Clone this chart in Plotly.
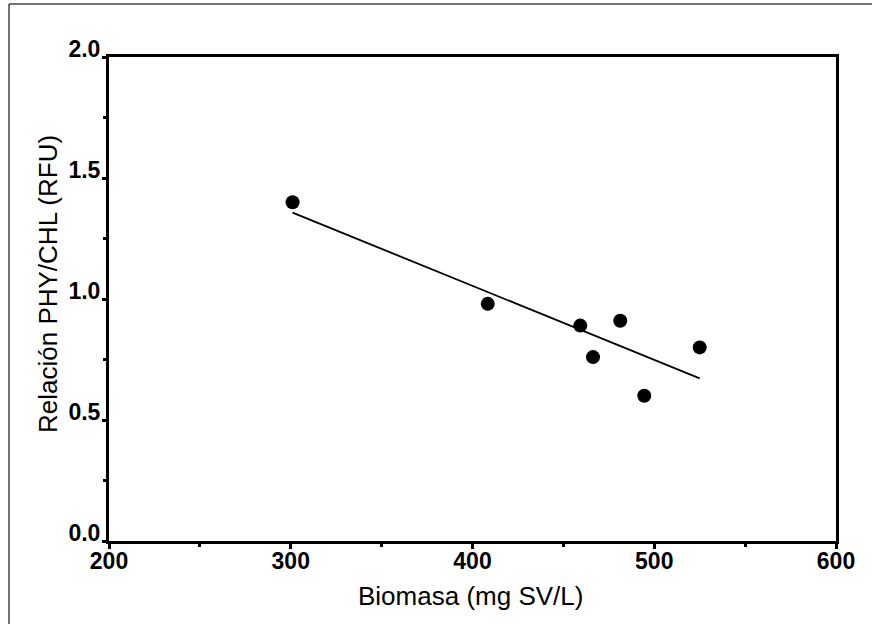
import plotly.graph_objects as go

# Data
biomasa = [301, 408.4, 459.3, 466.3, 481.3, 494.5, 525.0]
relacion = [1.40, 0.98, 0.89, 0.76, 0.91, 0.60, 0.80]

# Regression line endpoints (as drawn)
fit_x = [301, 525]
fit_y = [1.357, 0.672]

x_title = "Biomasa (mg SV/L)"
y_title = "Relación PHY/CHL (RFU)"

W, H = 872, 624
L, R, T, B = 109, 36, 57, 83
pw, ph = W - L - R, H - T - B

def px_to_paper_x(px):
    return (px - L) / pw

def px_to_paper_y(py):
    return (H - B - py) / ph

fig = go.Figure()
fig.add_trace(go.Scatter(
    x=fit_x, y=fit_y, mode="lines",
    line=dict(color="black", width=1.8), showlegend=False, hoverinfo="skip"))
fig.add_trace(go.Scatter(
    x=biomasa, y=relacion, mode="markers",
    marker=dict(color="black", size=14), showlegend=False))

tickfont = dict(family="Liberation Sans, Arial, sans-serif", size=23, color="black", weight="bold")
titlefont = dict(family="Liberation Sans, Arial, sans-serif", size=26, color="black")

fig.update_xaxes(
    range=[200, 600], dtick=100, tick0=200,
    showline=True, linewidth=3, linecolor="black", mirror=True,
    ticks="outside", ticklen=5, tickwidth=3, tickcolor="black",
    minor=dict(ticks="outside", ticklen=3, tickwidth=3, dtick=50, tickcolor="black"),
    showgrid=False, zeroline=False, tickfont=tickfont, ticklabelstandoff=-8)
fig.update_yaxes(
    range=[0, 2.0], dtick=0.5, tick0=0, tickformat=".1f",
    showline=True, linewidth=3, linecolor="black", mirror=True,
    ticks="outside", ticklen=4, tickwidth=3, tickcolor="black",
    minor=dict(ticks="outside", ticklen=3, tickwidth=3, dtick=0.25, tickcolor="black"),
    showgrid=False, zeroline=False, tickfont=tickfont, ticklabelshift=-8,
    ticklabelstandoff=-3)

fig.add_annotation(text=x_title, xref="paper", yref="paper",
                   x=px_to_paper_x(470), y=px_to_paper_y(596),
                   xanchor="center", yanchor="middle", showarrow=False, font=titlefont)
fig.add_annotation(text=y_title, xref="paper", yref="paper",
                   x=px_to_paper_x(48), y=px_to_paper_y(284), textangle=-90,
                   xanchor="center", yanchor="middle", showarrow=False, font=titlefont)

# Outer frame lines (left and top)
frame = dict(color="#444444", width=1.5)
fig.add_shape(type="line", xref="paper", yref="paper",
              x0=px_to_paper_x(9), x1=px_to_paper_x(9),
              y0=px_to_paper_y(4), y1=px_to_paper_y(630), line=frame)
fig.add_shape(type="line", xref="paper", yref="paper",
              x0=px_to_paper_x(9), x1=px_to_paper_x(880),
              y0=px_to_paper_y(4), y1=px_to_paper_y(4), line=frame)

fig.update_layout(
    width=W, height=H,
    margin=dict(l=L, r=R, t=T, b=B),
    paper_bgcolor="white", plot_bgcolor="white",
    showlegend=False)

fig.write_html("out.html", config={"displayModeBar": False},
               post_script="document.body.style.margin='0';document.body.style.overflow='hidden';")
